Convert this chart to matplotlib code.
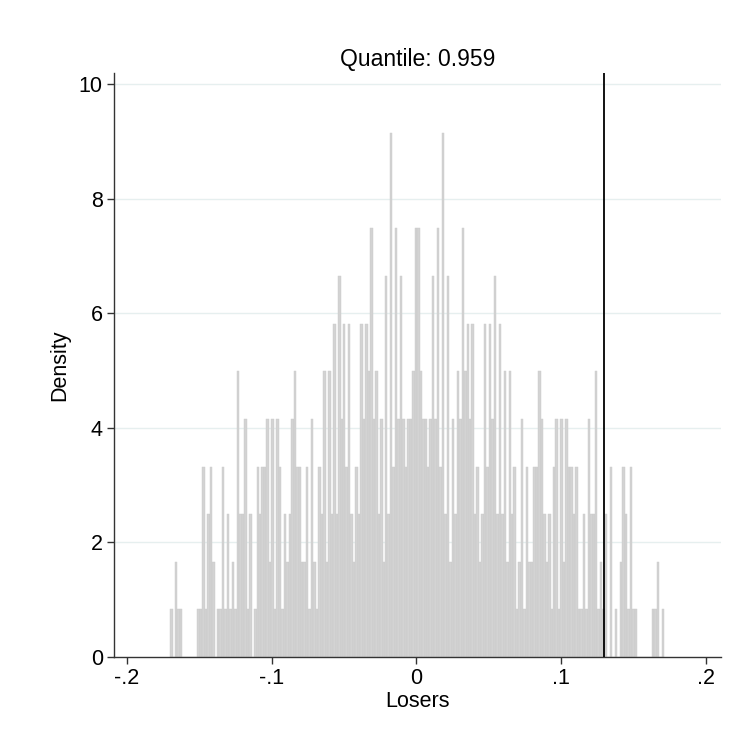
import numpy as np
import matplotlib
matplotlib.use('Agg')
import matplotlib.pyplot as plt

plt.rcParams['font.family'] = ['Liberation Sans', 'DejaVu Sans']

# histogram of Losers: 200 bins, counts per bin
bin_start = -0.1701
bin_width = 0.0017055
counts = [
    1, 0, 2, 1, 1, 0, 0, 0, 0, 0,
    0, 1, 1, 4, 1, 3, 4, 2, 0, 1,
    1, 4, 1, 3, 1, 2, 1, 6, 3, 3,
    5, 1, 3, 0, 1, 4, 3, 4, 4, 5,
    2, 5, 1, 5, 4, 1, 3, 2, 3, 5,
    6, 4, 4, 2, 2, 4, 1, 5, 2, 1,
    4, 3, 6, 2, 6, 3, 7, 3, 8, 5,
    7, 4, 7, 3, 2, 4, 3, 7, 5, 7,
    6, 9, 5, 6, 3, 5, 2, 8, 3, 11,
    4, 9, 5, 8, 5, 4, 5, 5, 6, 9,
    9, 6, 5, 5, 4, 5, 8, 5, 9, 4,
    11, 3, 8, 2, 5, 3, 6, 5, 9, 6,
    7, 5, 7, 3, 4, 2, 3, 7, 4, 7,
    5, 8, 3, 7, 3, 6, 2, 6, 3, 4,
    1, 2, 5, 1, 4, 2, 2, 4, 4, 6,
    5, 3, 2, 3, 1, 4, 5, 1, 5, 2,
    5, 4, 4, 3, 4, 1, 1, 3, 1, 5,
    3, 3, 6, 1, 2, 1, 3, 0, 4, 0,
    1, 0, 2, 4, 3, 1, 4, 1, 1, 0,
    0, 0, 0, 0, 0, 1, 1, 2, 0, 1,
]
quantile_value = 0.1292
title = 'Quantile: 0.959'
xticks = [-0.2, -0.1, 0, 0.1, 0.2]
xticklabels = ['-.2', '-.1', '0', '.1', '.2']
yticks = [0, 2, 4, 6, 8, 10]

counts = np.array(counts, dtype=float)
density = counts / (counts.sum() * bin_width)
left_edges = bin_start + bin_width * np.arange(len(counts))

fig = plt.figure(figsize=(7.43, 7.49), dpi=100)
ax = fig.add_axes([0.1534, 0.1228, 0.8166, 0.7798])

ax.bar(left_edges, density, width=bin_width, align='edge',
       color='#d3d3d3', edgecolor='#c9c9c9', linewidth=0.3, zorder=2)
ax.axvline(quantile_value, color='black', linewidth=1.3, zorder=3)

ax.set_xlim(-0.2088, 0.21)
ax.set_ylim(0, 10.2)
ax.set_xticks(xticks)
ax.set_xticklabels(xticklabels)
ax.set_yticks(yticks)
for y in yticks[1:]:
    ax.axhline(y, color='#e6efef', linewidth=1.0, zorder=1)

for s in ['top', 'right']:
    ax.spines[s].set_visible(False)
for s in ['left', 'bottom']:
    ax.spines[s].set_color('#333333')
    ax.spines[s].set_linewidth(1.0)
ax.tick_params(direction='out', length=5, width=1, color='#333333',
               labelsize=15.5, pad=3)

ax.set_xlabel('Losers', fontsize=15.5, labelpad=1)
ax.set_ylabel('Density', fontsize=15.5, labelpad=6)
ax.set_title(title, fontsize=16.5, pad=5)

fig.savefig('out.png', dpi=100)
